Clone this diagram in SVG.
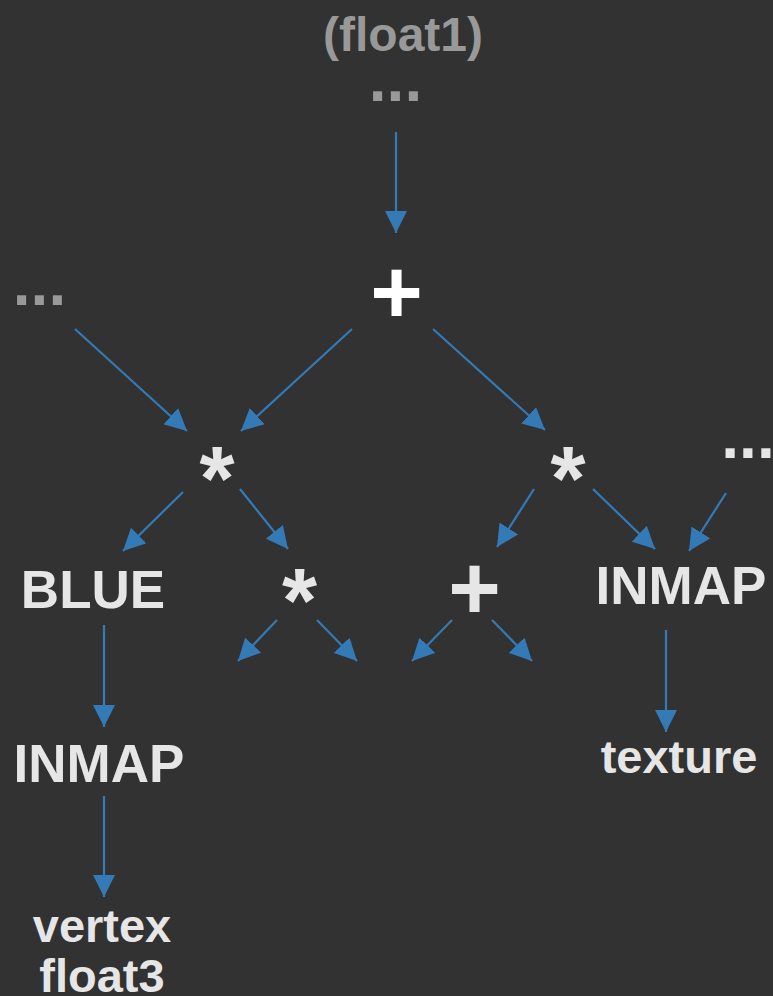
<svg xmlns="http://www.w3.org/2000/svg" width="773" height="996" viewBox="0 0 773 996">
  <style>
    text { font-family: "Liberation Sans", Arial, sans-serif; font-weight: bold; text-anchor: middle; }
    .lbl { fill: #e6e6e6; font-size: 53px; }
    .small { fill: #e6e6e6; font-size: 47px; }
    .op { fill: #e6e6e6; font-size: 90px; }
    .dots { fill: #999999; font-size: 64px; }
    .edge { stroke: #337ab7; stroke-width: 2.2; fill: none; marker-end: url(#arrow); }
  </style>
  <defs>
    <marker id="arrow" markerUnits="userSpaceOnUse" markerWidth="22" markerHeight="22" refX="22" refY="11" orient="auto">
      <path d="M0,0 L22,11 L0,22 Z" fill="#337ab7"/>
    </marker>
  </defs>
  <rect width="773" height="996" fill="#323232"/>

  <g id="edges">
    <line class="edge" x1="396" y1="132" x2="396" y2="233"/>
    <line class="edge" x1="75" y1="329" x2="187" y2="431"/>
    <line class="edge" x1="352" y1="329" x2="241" y2="431"/>
    <line class="edge" x1="433" y1="329" x2="545" y2="430"/>
    <line class="edge" x1="183" y1="492" x2="123" y2="551"/>
    <line class="edge" x1="240" y1="489" x2="288" y2="549"/>
    <line class="edge" x1="534" y1="489" x2="497" y2="547"/>
    <line class="edge" x1="593" y1="489" x2="655" y2="549"/>
    <line class="edge" x1="726" y1="493" x2="689" y2="551"/>
    <line class="edge" x1="277" y1="620" x2="238" y2="661"/>
    <line class="edge" x1="317" y1="620" x2="357" y2="661"/>
    <line class="edge" x1="452" y1="620" x2="412" y2="661"/>
    <line class="edge" x1="492" y1="620" x2="532" y2="661"/>
    <line class="edge" x1="104" y1="625" x2="104" y2="727"/>
    <line class="edge" x1="104" y1="796" x2="104" y2="897"/>
    <line class="edge" x1="666" y1="630" x2="666" y2="732"/>
  </g>

  <g id="title"><text x="403" y="51" style="font-size:48px;fill:#999999">(float1)</text></g>
  <g id="dots-top"><text class="dots" x="395.5" y="101">...</text></g>
  <g id="dots-left"><text class="dots" x="39.5" y="305">...</text></g>
  <g id="dots-right"><text class="dots" x="748" y="458" style="fill:#e6e6e6">...</text></g>

  <g id="add-root"><text class="op" x="396.5" y="323" style="fill:#ffffff">+</text></g>
  <g id="mul-left"><text class="op" x="217" y="510">*</text></g>
  <g id="mul-right"><text class="op" x="568" y="510">*</text></g>
  <g id="mul-mid"><text class="op" x="299.5" y="632">*</text></g>
  <g id="add-mid"><text class="op" x="474.5" y="619">+</text></g>

  <g id="blue"><text class="lbl" x="93" y="608">BLUE</text></g>
  <g id="inmap-left"><text class="lbl" x="99" y="782">INMAP</text></g>
  <g id="inmap-right"><text class="lbl" x="681" y="604">INMAP</text></g>
  <g id="texture"><text class="small" x="679" y="773">texture</text></g>
  <g id="vertex"><text class="small" x="102" y="942">vertex</text><text class="small" x="102" y="992">float3</text></g>
</svg>
